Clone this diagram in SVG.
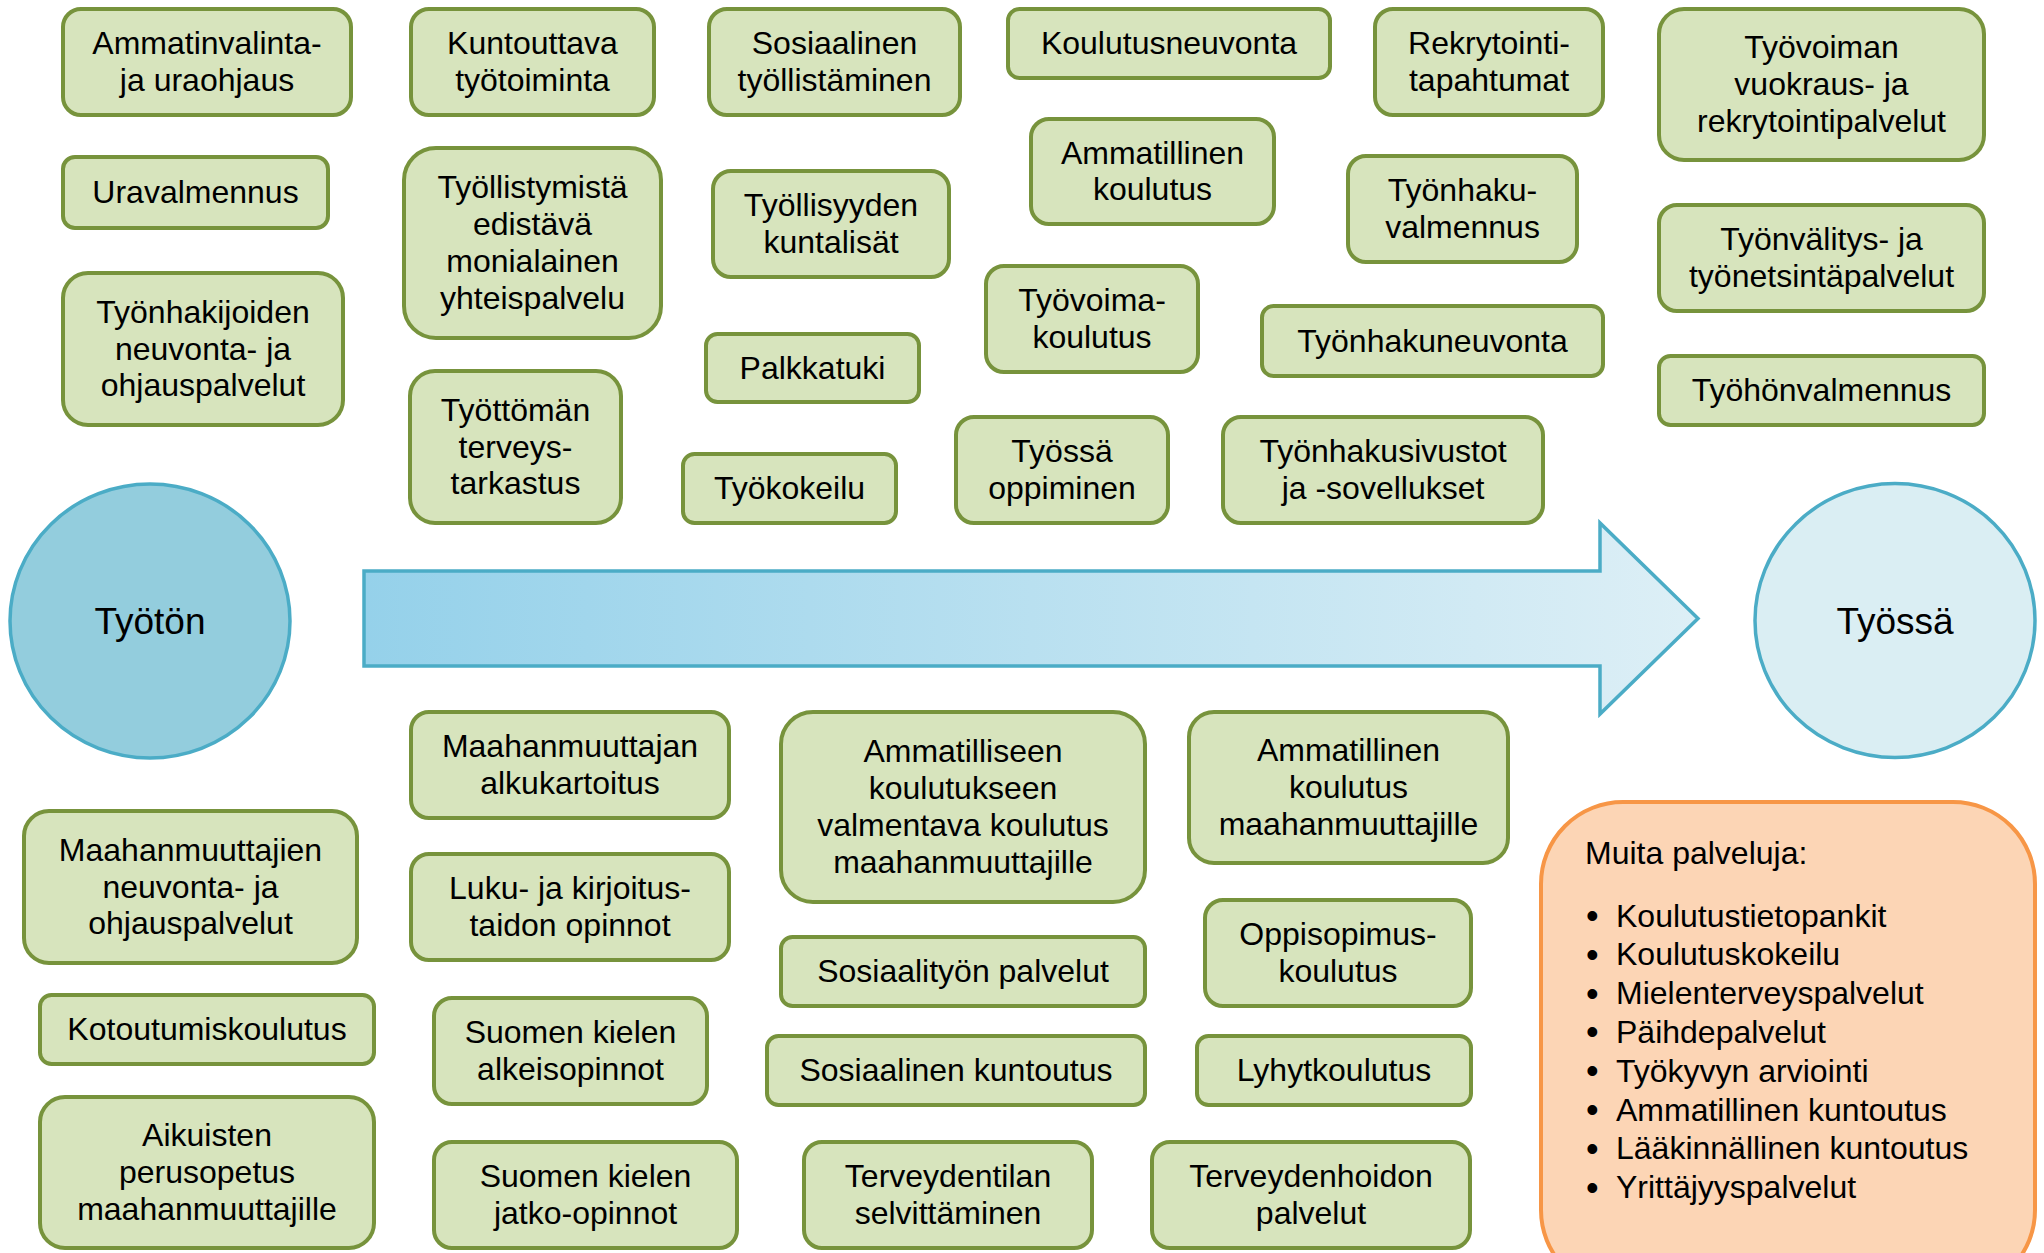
<svg xmlns="http://www.w3.org/2000/svg" width="2044" height="1253" viewBox="0 0 2044 1253">
<defs>
<linearGradient id="arrowGrad" x1="0" y1="0" x2="1" y2="0">
<stop offset="0" stop-color="#95D1EA"/>
<stop offset="1" stop-color="#DDEFF6"/>
</linearGradient>
<style>
.b{fill:#D7E4BD;stroke:#77933C;stroke-width:4}
.t{font-family:"Liberation Sans",Arial,sans-serif;font-size:32px;text-anchor:middle;fill:#000}
.c{font-family:"Liberation Sans",Arial,sans-serif;font-size:37px;text-anchor:middle;fill:#000}
.l{font-family:"Liberation Sans",Arial,sans-serif;font-size:32px;fill:#000}
.bu{font-family:"Liberation Sans",Arial,sans-serif;font-size:36px;fill:#000}
</style>
</defs>
<rect width="2044" height="1253" fill="#FFFFFF"/>

<g id="connectors">
<path d="M364,571 L1600,571 L1600,523 L1698,618.5 L1600,714 L1600,666 L364,666 Z" fill="url(#arrowGrad)" stroke="#4BACC6" stroke-width="3.5" stroke-linejoin="miter"/>
</g>

<g id="tyoton">
<ellipse cx="150" cy="621" rx="140" ry="137" fill="#93CDDD" stroke="#4BACC6" stroke-width="3.5"/>
<text class="c" x="150" y="634">Työtön</text>
</g>
<g id="tyossa">
<ellipse cx="1895" cy="620.5" rx="140" ry="137" fill="#DAEEF3" stroke="#4BACC6" stroke-width="3.5"/>
<text class="c" x="1895" y="634">Työssä</text>
</g>

<g id="n1"><rect class="b" x="63" y="9" width="288" height="106" rx="18"/><text class="t"><tspan x="207" y="54.1">Ammatinvalinta-</tspan><tspan x="207" y="90.9">ja uraohjaus</tspan></text></g>
<g id="n2"><rect class="b" x="411" y="9" width="243" height="106" rx="18"/><text class="t"><tspan x="532.5" y="54.1">Kuntouttava</tspan><tspan x="532.5" y="90.9">työtoiminta</tspan></text></g>
<g id="n3"><rect class="b" x="709" y="9" width="251" height="106" rx="18"/><text class="t"><tspan x="834.5" y="54.1">Sosiaalinen</tspan><tspan x="834.5" y="90.9">työllistäminen</tspan></text></g>
<g id="n4"><rect class="b" x="1008" y="9" width="322" height="69" rx="11.5"/><text class="t" x="1169" y="54">Koulutusneuvonta</text></g>
<g id="n5"><rect class="b" x="1375" y="9" width="228" height="106" rx="18"/><text class="t"><tspan x="1489" y="54.1">Rekrytointi-</tspan><tspan x="1489" y="90.9">tapahtumat</tspan></text></g>
<g id="n6"><rect class="b" x="1659" y="9" width="325" height="151" rx="25"/><text class="t"><tspan x="1821.5" y="58.2">Työvoiman</tspan><tspan x="1821.5" y="95">vuokraus- ja</tspan><tspan x="1821.5" y="131.8">rekrytointipalvelut</tspan></text></g>

<g id="n7"><rect class="b" x="63" y="157" width="265" height="71" rx="12"/><text class="t" x="195.5" y="203">Uravalmennus</text></g>
<g id="n8"><rect class="b" x="404" y="148" width="257" height="190" rx="32"/><text class="t"><tspan x="532.5" y="198.3">Työllistymistä</tspan><tspan x="532.5" y="235.1">edistävä</tspan><tspan x="532.5" y="271.9">monialainen</tspan><tspan x="532.5" y="308.7">yhteispalvelu</tspan></text></g>
<g id="n9"><rect class="b" x="713" y="171" width="236" height="106" rx="18"/><text class="t"><tspan x="831" y="216.1">Työllisyyden</tspan><tspan x="831" y="252.9">kuntalisät</tspan></text></g>
<g id="n10"><rect class="b" x="1031" y="119" width="243" height="105" rx="18"/><text class="t"><tspan x="1152.5" y="163.6">Ammatillinen</tspan><tspan x="1152.5" y="200.4">koulutus</tspan></text></g>
<g id="n11"><rect class="b" x="1348" y="156" width="229" height="106" rx="18"/><text class="t"><tspan x="1462.5" y="201.1">Työnhaku-</tspan><tspan x="1462.5" y="237.9">valmennus</tspan></text></g>
<g id="n12"><rect class="b" x="1659" y="205" width="325" height="106" rx="18"/><text class="t"><tspan x="1821.5" y="250.1">Työnvälitys- ja</tspan><tspan x="1821.5" y="286.9">työnetsintäpalvelut</tspan></text></g>

<g id="n13"><rect class="b" x="63" y="273" width="280" height="152" rx="25"/><text class="t"><tspan x="203" y="322.7">Työnhakijoiden</tspan><tspan x="203" y="359.5">neuvonta- ja</tspan><tspan x="203" y="396.3">ohjauspalvelut</tspan></text></g>
<g id="n14"><rect class="b" x="706" y="334" width="213" height="68" rx="11.5"/><text class="t" x="812.5" y="378.5">Palkkatuki</text></g>
<g id="n15"><rect class="b" x="986" y="266" width="212" height="106" rx="18"/><text class="t"><tspan x="1092" y="311.1">Työvoima-</tspan><tspan x="1092" y="347.9">koulutus</tspan></text></g>
<g id="n16"><rect class="b" x="1262" y="306" width="341" height="70" rx="11.5"/><text class="t" x="1432.5" y="351.5">Työnhakuneuvonta</text></g>
<g id="n17"><rect class="b" x="1659" y="356" width="325" height="69" rx="11.5"/><text class="t" x="1821.5" y="401">Työhönvalmennus</text></g>

<g id="n18"><rect class="b" x="410" y="371" width="211" height="152" rx="25"/><text class="t"><tspan x="515.5" y="420.7">Työttömän</tspan><tspan x="515.5" y="457.5">terveys-</tspan><tspan x="515.5" y="494.3">tarkastus</tspan></text></g>
<g id="n19"><rect class="b" x="683" y="454" width="213" height="69" rx="11.5"/><text class="t" x="789.5" y="499">Työkokeilu</text></g>
<g id="n20"><rect class="b" x="956" y="417" width="212" height="106" rx="18"/><text class="t"><tspan x="1062" y="462.1">Työssä</tspan><tspan x="1062" y="498.9">oppiminen</tspan></text></g>
<g id="n21"><rect class="b" x="1223" y="417" width="320" height="106" rx="18"/><text class="t"><tspan x="1383" y="462.1">Työnhakusivustot</tspan><tspan x="1383" y="498.9">ja -sovellukset</tspan></text></g>

<g id="n22"><rect class="b" x="411" y="712" width="318" height="106" rx="18"/><text class="t"><tspan x="570" y="757.1">Maahanmuuttajan</tspan><tspan x="570" y="793.9">alkukartoitus</tspan></text></g>
<g id="n23"><rect class="b" x="781" y="712" width="364" height="190" rx="32"/><text class="t"><tspan x="963" y="762.3">Ammatilliseen</tspan><tspan x="963" y="799.1">koulutukseen</tspan><tspan x="963" y="835.9">valmentava koulutus</tspan><tspan x="963" y="872.7">maahanmuuttajille</tspan></text></g>
<g id="n24"><rect class="b" x="1189" y="712" width="319" height="151" rx="25"/><text class="t"><tspan x="1348.5" y="761.2">Ammatillinen</tspan><tspan x="1348.5" y="798">koulutus</tspan><tspan x="1348.5" y="834.8">maahanmuuttajille</tspan></text></g>
<g id="n25"><rect class="b" x="24" y="811" width="333" height="152" rx="25"/><text class="t"><tspan x="190.5" y="860.7">Maahanmuuttajien</tspan><tspan x="190.5" y="897.5">neuvonta- ja</tspan><tspan x="190.5" y="934.3">ohjauspalvelut</tspan></text></g>
<g id="n26"><rect class="b" x="411" y="854" width="318" height="106" rx="18"/><text class="t"><tspan x="570" y="899.1">Luku- ja kirjoitus-</tspan><tspan x="570" y="935.9">taidon opinnot</tspan></text></g>
<g id="n27"><rect class="b" x="781" y="937" width="364" height="69" rx="11.5"/><text class="t" x="963" y="982">Sosiaalityön palvelut</text></g>
<g id="n28"><rect class="b" x="1205" y="900" width="266" height="106" rx="18"/><text class="t"><tspan x="1338" y="945.1">Oppisopimus-</tspan><tspan x="1338" y="981.9">koulutus</tspan></text></g>
<g id="n29"><rect class="b" x="40" y="995" width="334" height="69" rx="11.5"/><text class="t" x="207" y="1040">Kotoutumiskoulutus</text></g>
<g id="n30"><rect class="b" x="434" y="998" width="273" height="106" rx="18"/><text class="t"><tspan x="570.5" y="1043.1">Suomen kielen</tspan><tspan x="570.5" y="1079.9">alkeisopinnot</tspan></text></g>
<g id="n31"><rect class="b" x="767" y="1036" width="378" height="69" rx="11.5"/><text class="t" x="956" y="1081">Sosiaalinen kuntoutus</text></g>
<g id="n32"><rect class="b" x="1197" y="1036" width="274" height="69" rx="11.5"/><text class="t" x="1334" y="1081">Lyhytkoulutus</text></g>
<g id="n33"><rect class="b" x="40" y="1097" width="334" height="151" rx="25"/><text class="t"><tspan x="207" y="1146.2">Aikuisten</tspan><tspan x="207" y="1183">perusopetus</tspan><tspan x="207" y="1219.8">maahanmuuttajille</tspan></text></g>
<g id="n34"><rect class="b" x="434" y="1142" width="303" height="106" rx="18"/><text class="t"><tspan x="585.5" y="1187.1">Suomen kielen</tspan><tspan x="585.5" y="1223.9">jatko-opinnot</tspan></text></g>
<g id="n35"><rect class="b" x="804" y="1142" width="288" height="106" rx="18"/><text class="t"><tspan x="948" y="1187.1">Terveydentilan</tspan><tspan x="948" y="1223.9">selvittäminen</tspan></text></g>
<g id="n36"><rect class="b" x="1152" y="1142" width="318" height="106" rx="18"/><text class="t"><tspan x="1311" y="1187.1">Terveydenhoidon</tspan><tspan x="1311" y="1223.9">palvelut</tspan></text></g>

<g id="muita">
<rect x="1541" y="802" width="494" height="490" rx="82" fill="#FCD5B5" stroke="#F79646" stroke-width="4"/>
<text class="l" x="1585" y="864">Muita palveluja:</text>
<g class="bu">
<text x="1586" y="928">•</text>
<text x="1586" y="966.8">•</text>
<text x="1586" y="1005.6">•</text>
<text x="1586" y="1044.4">•</text>
<text x="1586" y="1083.2">•</text>
<text x="1586" y="1122">•</text>
<text x="1586" y="1160.8">•</text>
<text x="1586" y="1199.6">•</text>
</g>
<g class="l">
<text x="1616" y="926.5">Koulutustietopankit</text>
<text x="1616" y="965.3">Koulutuskokeilu</text>
<text x="1616" y="1004.1">Mielenterveyspalvelut</text>
<text x="1616" y="1042.9">Päihdepalvelut</text>
<text x="1616" y="1081.7">Työkyvyn arviointi</text>
<text x="1616" y="1120.5">Ammatillinen kuntoutus</text>
<text x="1616" y="1159.3">Lääkinnällinen kuntoutus</text>
<text x="1616" y="1198.1">Yrittäjyyspalvelut</text>
</g>
</g>
</svg>
